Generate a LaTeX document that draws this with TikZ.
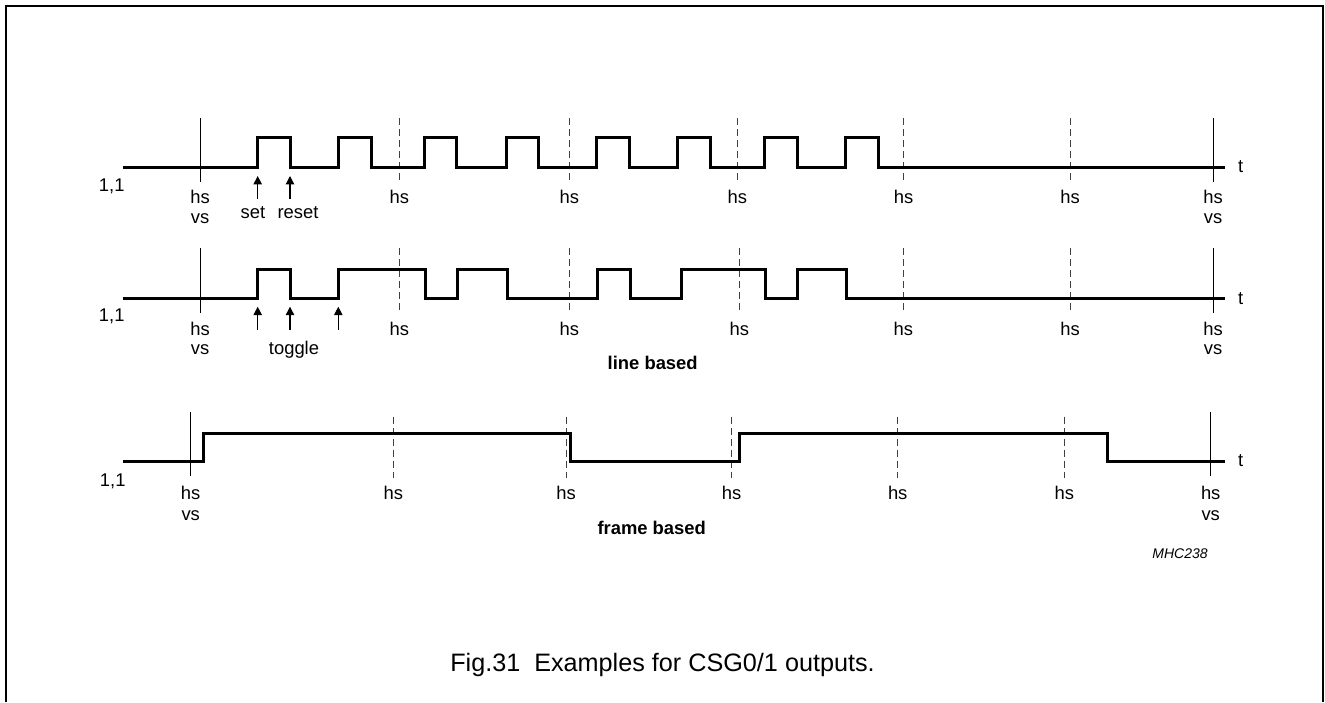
\documentclass[tikz,border=0pt]{standalone}
\usepackage{fontspec}
\setmainfont{Liberation Sans}
\usetikzlibrary{arrows.meta,positioning}
\tikzstyle{wave}    = [line width=1.5pt, line join=miter]
\tikzstyle{hsline}  = [line width=0.5pt]
\tikzstyle{hsdash}  = [line width=0.5pt, black!75, dash pattern=on 3.5pt off 2pt]
\tikzstyle{trigger} = [line width=0.6pt, -{Triangle[length=4.2pt,width=4.2pt]}]
\tikzstyle{lbl}     = [inner sep=0pt, font=\fontsize{9.2}{11}\selectfont]
\tikzstyle{title}   = [inner sep=0pt, font=\fontsize{9.2}{11}\selectfont\bfseries]

\begin{document}
\begin{tikzpicture}[x=0.5pt,y=-0.5pt]
	\useasboundingbox (0,0) rectangle (1325,702);
	% frame
	\draw[line width=1pt] (6,702) -- (6,6) -- (1323,6) -- (1323,702);

	% line based: set/reset
	\draw[hsline] (200,118) -- (200,182);
	\draw[hsline] (1213,118) -- (1213,182);
	\foreach \x in {399.3,569.3,737.3,903.5,1070}
		\draw[hsdash] (\x,118) -- (\x,182);
	\draw[wave] (123,167) -| (257.7,137) -| (290,167) -| (338,137) -| (371.7,167)
		-| (424,137) -| (456.7,167) -| (506,137) -| (538.3,167) -| (596,137) -| (629.3,167)
		-| (677.3,137) -| (710,167) -| (764.3,137) -| (797.7,167) -| (845.7,137) -| (878.3,167)
		-- (1225,167);
	\draw[trigger] (257.7,199) -- (257.7,176);
	\draw[trigger] (290,199) -- (290,176);

	\node[lbl] (oneA) at (111.7,186.7) {1,1};
	\node[lbl] (tA) at (1240.7,166.7) {t};
	\node[lbl] (hsA0) at (200,197.3) {hs};
	\node[lbl] (vsA0) at (200,218.3) {vs};
	\node[lbl] (hsA1) at (399.3,197.3) {hs};
	\node[lbl] (hsA2) at (569.3,197.3) {hs};
	\node[lbl] (hsA3) at (737.3,197.3) {hs};
	\node[lbl] (hsA4) at (903.5,197.3) {hs};
	\node[lbl] (hsA5) at (1070,197.3) {hs};
	\node[lbl] (hsA6) at (1213,197.3) {hs};
	\node[lbl] (vsA6) at (1213,218.3) {vs};
	\node[lbl] (set) at (253,212.7) {set};
	\node[lbl] (reset) at (298,212.7) {reset};

	% line based: toggle
	\draw[hsline] (200,248) -- (200,313);
	\draw[hsline] (1213,248) -- (1213,313);
	\foreach \x in {399.3,569.3,739.3,903.3,1070}
		\draw[hsdash] (\x,248) -- (\x,313);
	\draw[wave] (123,298.3) -| (257.7,269.3) -| (290,298.3) -| (338.3,269.3) -| (425.7,298.3)
		-| (457.7,269.3) -| (507.3,298.3) -| (597.3,269.3) -| (630,298.3)
		-| (681,269.3) -| (765.7,298.3) -| (797.7,269.3) -| (846.7,298.3)
		-- (1225,298.3);
	\draw[trigger] (257.7,330) -- (257.7,306.7);
	\draw[trigger] (290,330) -- (290,306.7);
	\draw[trigger] (338.3,330) -- (338.3,306.7);

	\node[lbl] (oneB) at (111.7,316.7) {1,1};
	\node[lbl] (tB) at (1240.7,298.3) {t};
	\node[lbl] (hsB0) at (200,329.3) {hs};
	\node[lbl] (vsB0) at (200,350) {vs};
	\node[lbl] (hsB1) at (399.3,329.3) {hs};
	\node[lbl] (hsB2) at (569.3,329.3) {hs};
	\node[lbl] (hsB3) at (739.3,329.3) {hs};
	\node[lbl] (hsB4) at (903.3,329.3) {hs};
	\node[lbl] (hsB5) at (1070,329.3) {hs};
	\node[lbl] (hsB6) at (1213,329.3) {hs};
	\node[lbl] (vsB6) at (1213,350) {vs};
	\node[lbl] (toggle) at (294,349.3) {toggle};
	\node[title] (linebased) at (652.7,363.3) {line based};

	% frame based
	\draw[hsline] (190.7,411.7) -- (190.7,476);
	\draw[hsline] (1210.7,411.7) -- (1210.7,476);
	\foreach \x in {393.3,566,731.7,897.7,1064.3}
		\draw[hsdash] (\x,416.7) -- (\x,478.3);
	\draw[wave] (123,461) -| (203.3,433.3) -| (570.7,461) -| (739.3,433.3) -| (1107.3,461)
		-- (1225.3,461);

	\node[lbl] (oneC) at (112.7,481.7) {1,1};
	\node[lbl] (tC) at (1240.7,461) {t};
	\node[lbl] (hsC0) at (190.7,493.3) {hs};
	\node[lbl] (vsC0) at (190.7,516) {vs};
	\node[lbl] (hsC1) at (393.3,493.3) {hs};
	\node[lbl] (hsC2) at (566,493.3) {hs};
	\node[lbl] (hsC3) at (731.7,493.3) {hs};
	\node[lbl] (hsC4) at (897.7,493.3) {hs};
	\node[lbl] (hsC5) at (1064.3,493.3) {hs};
	\node[lbl] (hsC6) at (1210.7,493.3) {hs};
	\node[lbl] (vsC6) at (1210.7,516) {vs};
	\node[title] (framebased) at (651.7,528.3) {frame based};
	\node[lbl, font=\fontsize{7}{8}\selectfont\itshape] (code) at (1180,554) {MHC238};

	% caption
	\node[inner sep=0pt, font=\fontsize{12.6}{15}\selectfont] (caption) at (662.5,665) {Fig.31\ \ Examples for CSG0/1 outputs.};
\end{tikzpicture}
\end{document}
